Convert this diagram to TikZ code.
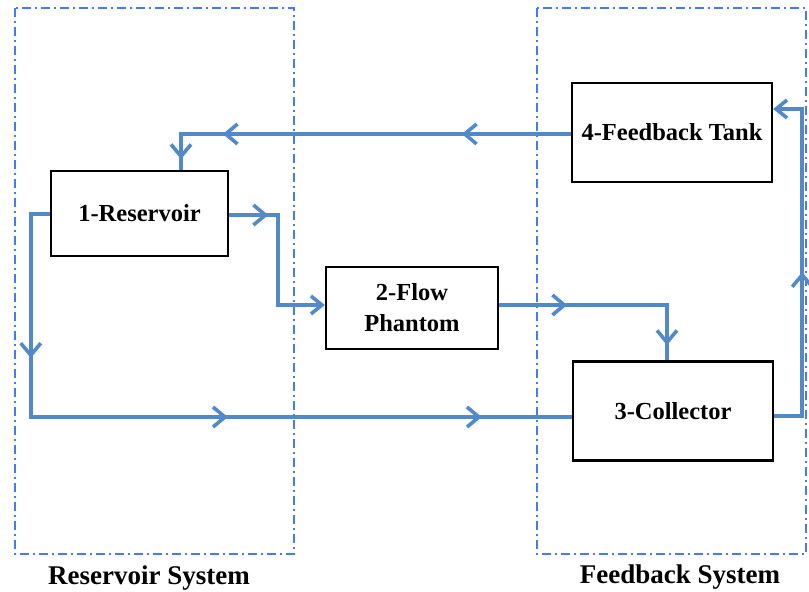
\documentclass[tikz,border=0pt]{standalone}
\usepackage{fontspec}
\setmainfont{Liberation Serif}
\usetikzlibrary{arrows.meta,decorations.markings}
\definecolor{flowblue}{RGB}{84,137,201}
\definecolor{dashblue}{RGB}{70,122,238}
\tikzset{
  box/.style={draw=black, line width=2.4pt, rectangle, inner sep=0pt, align=center,
    font=\fontsize{24.5}{31}\selectfont\bfseries},
  flow/.style={draw=flowblue, line width=3.6pt},
  tipend/.style={-{Straight Barb[length=11pt,width=18pt]}},
  midtip/.style={postaction={decorate, decoration={markings,
     mark=at position #1 with {\arrow[line width=3.6pt]{Straight Barb[length=12pt,width=20pt]}}}}},
  sysbox/.style={draw=dashblue, line width=1.8pt, dash pattern=on 9pt off 4pt on 2pt off 4pt},
  syslabel/.style={font=\fontsize{27}{28}\selectfont\bfseries}
}
\begin{document}
\begin{tikzpicture}[x=1pt,y=-1pt]
\useasboundingbox (0,0) rectangle (809,592);
% system frames
\draw[sysbox] (15,8) rectangle (294,554);
\draw[sysbox] (537,8) rectangle (806,554);
\node[syslabel] (lres) at (149,578) {Reservoir System};
\node[syslabel] (lfb) at (680,577) {Feedback System};
% boxes
\node[box, minimum width=177pt, minimum height=85pt] (r1) at (139.5,213.5) {1-Reservoir};
\node[box, minimum width=172pt, minimum height=82pt] (p2) at (412,308) {2-Flow\\Phantom};
\node[box, minimum width=200pt, minimum height=99pt] (c3) at (673,411) {3-Collector};
\node[box, minimum width=200pt, minimum height=99pt] (t4) at (672,132.5) {4-Feedback Tank};
% connectors
\draw[flow, midtip=109pt, midtip=348pt, midtip=415pt]
  ([yshift=-1.5pt]t4.west) -| ([xshift=41.5pt]r1.north);
\draw[flow, tipend, midtip=39pt]
  ([yshift=-1.5pt]r1.east) -- ++(49,0) |- ([yshift=3pt]p2.west);
\draw[flow, midtip=68pt, midtip=208pt]
  ([yshift=3pt]p2.east) -| ([xshift=-6pt]c3.north);
\draw[flow, midtip=163pt, midtip=419pt, midtip=673pt]
  ([yshift=-0.5pt]r1.west) -- ++(-19,0) |- ([yshift=-6pt]c3.west);
\draw[flow, tipend, midtip=172pt]
  ([yshift=-5pt]c3.east) -- ++(28,0) |- ([yshift=23.5pt]t4.east);
\end{tikzpicture}
\end{document}
